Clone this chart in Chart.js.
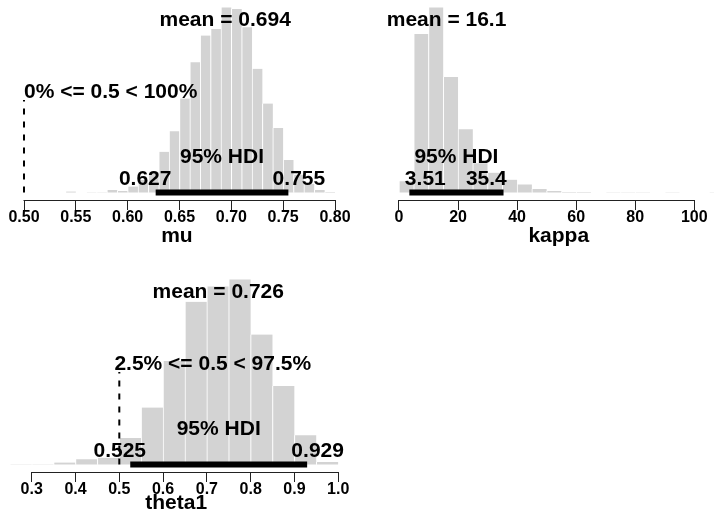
<!DOCTYPE html>
<html><head><meta charset="utf-8">
<script src="https://cdn.jsdelivr.net/npm/chart.js@4.4.1/dist/chart.umd.min.js"></script>
<style>
html,body{margin:0;padding:0;background:#fff;}
#wrap{position:relative;width:714px;height:514px;overflow:hidden;background:#fff;}
canvas{position:absolute;left:0;top:0;}
</style></head><body>
<div id="wrap">
<canvas id="c1" width="714" height="514"></canvas>
<canvas id="c2" width="760" height="514"></canvas>
<canvas id="c3" width="714" height="514"></canvas>
</div>
<script>
// ---------- data: mu ----------
const muBinStarts = [0.54,0.55,0.56,0.57,0.58,0.59,0.60,0.61,0.62,0.63,0.64,0.65,0.66,0.67,0.68,0.69,0.70,0.71,0.72,0.73,0.74,0.75,0.76,0.77,0.78,0.79];
const muHeights   = [1.0,0,0.4,0.4,2.7,1.7,6.0,12.7,21,41,61.7,94.4,131,157.7,164.4,186,184.4,166,124.4,89.4,65,32.7,18,9,2.7,0.7];
const muTicks = [0.50,0.55,0.60,0.65,0.70,0.75,0.80];
const muTickLabels = ["0.50","0.55","0.60","0.65","0.70","0.75","0.80"];
const muMean = 0.694;
const muHDI = [0.627, 0.755];
const muComp = [0.5, 0, 100]; // value, % below, % above

// ---------- data: kappa ----------
const kappaBinStarts = [0,5,10,15,20,25,30,35,40,45,50,55,60,65,70,75,80,85,90,95,100,105];
const kappaHeights   = [11.5,159.4,186,116,63.7,29.4,20,13,8.2,3.5,1.5,0.7,0.5,0,0.3,0.3,0.3,0,0.3,0,0,0.3];
const kappaTicks = [0,20,40,60,80,100];
const kappaTickLabels = ["0","20","40","60","80","100"];
const kappaMean = 16.1;
const kappaHDI = [3.51, 35.4];

// ---------- data: theta1 ----------
const thetaBinStarts = [0.25,0.30,0.35,0.40,0.45,0.50,0.55,0.60,0.65,0.70,0.75,0.80,0.85,0.90,0.95];
const thetaHeights   = [0.3,0.3,2,5.3,6.8,26.6,57,103.6,162.6,178,185,130,78.6,29.3,2.6];
const thetaTicks = [0.3,0.4,0.5,0.6,0.7,0.8,0.9,1.0];
const thetaTickLabels = ["0.3","0.4","0.5","0.6","0.7","0.8","0.9","1.0"];
const thetaMean = 0.726;
const thetaHDI = [0.525, 0.929];
const thetaComp = [0.5, 2.5, 97.5];

const FAMILY = '"Liberation Sans", Arial, Helvetica, sans-serif';
Chart.defaults.font.family = FAMILY;

function drawAdj(ctx, text, x, y, adj){
  const w = ctx.measureText(text).width;
  ctx.textAlign = 'left';
  ctx.fillText(text, x - adj*w, y);
}

function annotPlugin(p){
  return {
    id: 'annot_' + p.name,
    beforeDatasetsDraw(chart){
      const xs = chart.scales.x, ctx = chart.ctx;
      const x1 = xs.getPixelForValue(p.ticks[0]);
      const x2 = xs.getPixelForValue(p.ticks[p.ticks.length-1]);
      const y = Math.round(xs.top) + 0.5;
      ctx.save();
      ctx.strokeStyle = '#222'; ctx.lineWidth = 1;
      ctx.beginPath(); ctx.moveTo(x1 - 0.5, y); ctx.lineTo(x2 + 0.5, y); ctx.stroke();
      ctx.restore();
    },
    afterDatasetsDraw(chart){
      const ctx = chart.ctx, xs = chart.scales.x, ys = chart.scales.y;
      const M = Math.max(...p.heights);
      const y0 = ys.getPixelForValue(0);
      ctx.save();
      ctx.fillStyle = '#000';
      ctx.font = 'bold 21px ' + FAMILY;
      ctx.textBaseline = 'alphabetic';
      if (p.comp){
        const cx = xs.getPixelForValue(p.comp[0]);
        ctx.strokeStyle = '#000'; ctx.lineWidth = 2; ctx.setLineDash([6,7]);
        ctx.beginPath(); ctx.moveTo(cx, y0); ctx.lineTo(cx, ys.getPixelForValue(0.5*M)); ctx.stroke();
        ctx.setLineDash([]);
        drawAdj(ctx, p.comp[1] + '% <= ' + p.comp[0] + ' < ' + p.comp[2] + '%', cx, ys.getPixelForValue(0.51*M), p.comp[1]/100);
      }
      ctx.textAlign = 'center';
      ctx.fillText('mean = ' + p.mean, xs.getPixelForValue(p.mean), ys.getPixelForValue(0.9*M));
      ctx.strokeStyle = '#000'; ctx.lineWidth = 6; ctx.lineCap = 'butt';
      ctx.beginPath();
      ctx.moveTo(xs.getPixelForValue(p.hdi[0]), y0);
      ctx.lineTo(xs.getPixelForValue(p.hdi[1]), y0);
      ctx.stroke();
      ctx.textAlign = 'center';
      ctx.fillText('95% HDI', xs.getPixelForValue((p.hdi[0]+p.hdi[1])/2), y0 - 29.3);
      drawAdj(ctx, String(p.hdi[0]), xs.getPixelForValue(p.hdi[0]), y0 - 7.5, p.hdiAdj[0]);
      drawAdj(ctx, String(p.hdi[1]), xs.getPixelForValue(p.hdi[1]), y0 - 7.5, p.hdiAdj[1]);
      ctx.restore();
    }
  };
}

function makePanel(id, p){
  const M = Math.max(...p.heights);
  const cv = document.getElementById(id);
  const W = cv.width, H = cv.height;
  const data = p.starts.map((s,i)=>({x: s + p.binWidth/2, y: p.heights[i]}));
  return new Chart(cv, {
    type: 'bar',
    data: { datasets: [{
      data: data,
      backgroundColor: '#D3D3D3',
      borderColor: '#FFFFFF',
      borderWidth: {left:1, right:0, top:0, bottom:0},
      barPercentage: 1.0,
      categoryPercentage: 1.0
    }]},
    options: {
      responsive: false,
      animation: false,
      devicePixelRatio: 1,
      events: [],
      layout: { padding: { left: p.box.left, right: W - p.box.right, top: p.box.top, bottom: H - p.box.bottom - p.axisH } },
      plugins: { legend: {display:false}, tooltip: {enabled:false}, title: {display:false} },
      scales: {
        x: {
          type: 'linear', min: p.min, max: p.max, bounds: 'data', offset: false,
          afterBuildTicks: (sc) => { sc.ticks = p.ticks.map(v => ({value: v})); },
          afterFit: (sc) => { sc.height = p.axisH; },
          ticks: { autoSkip: false, maxRotation: 0, minRotation: 0, padding: p.tickPad, color: '#000',
                   font: { size: 16, weight: 'bold', lineHeight: 1 },
                   callback: (v, i) => p.tickLabels[i] },
          grid: { display: true, drawOnChartArea: false, drawTicks: true, tickLength: 10, color: '#222', lineWidth: 1, offset: false },
          border: { display: false },
          title: { display: true, text: p.name, color: '#000', font: { size: 21, weight: 'bold', lineHeight: 1 }, padding: {top: 0, bottom: p.titlePad} }
        },
        y: { display: false, min: -0.04*M, max: 1.04*M }
      }
    },
    plugins: [annotPlugin(p)]
  });
}

makePanel('c1', { name: 'mu', starts: muBinStarts, heights: muHeights, binWidth: 0.01,
  ticks: muTicks, tickLabels: muTickLabels, mean: muMean, hdi: muHDI, hdiAdj: [0.7, 0.3], comp: muComp,
  min: 0.485, max: 0.81, box: {left: 8.45, right: 345.4, top: 0, bottom: 200},
  axisH: 48, tickPad: 0, titlePad: 1.5 });

makePanel('c2', { name: 'kappa', starts: kappaBinStarts, heights: kappaHeights, binWidth: 5,
  ticks: kappaTicks, tickLabels: kappaTickLabels, mean: kappaMean, hdi: kappaHDI, hdiAdj: [0.11, 0.92], comp: null,
  min: -4.4, max: 112.6, box: {left: 386.0, right: 731.5, top: 0, bottom: 200},
  axisH: 48, tickPad: 0, titlePad: 1.5 });

makePanel('c3', { name: 'theta1', starts: thetaBinStarts, heights: thetaHeights, binWidth: 0.05,
  ticks: thetaTicks, tickLabels: thetaTickLabels, mean: thetaMean, hdi: thetaHDI, hdiAdj: [0.7, 0.3], comp: thetaComp,
  min: 0.25, max: 1.01, box: {left: 9.85, right: 342.6, top: 272, bottom: 472},
  axisH: 42, tickPad: 0, titlePad: 0 });
</script>
</body></html>
